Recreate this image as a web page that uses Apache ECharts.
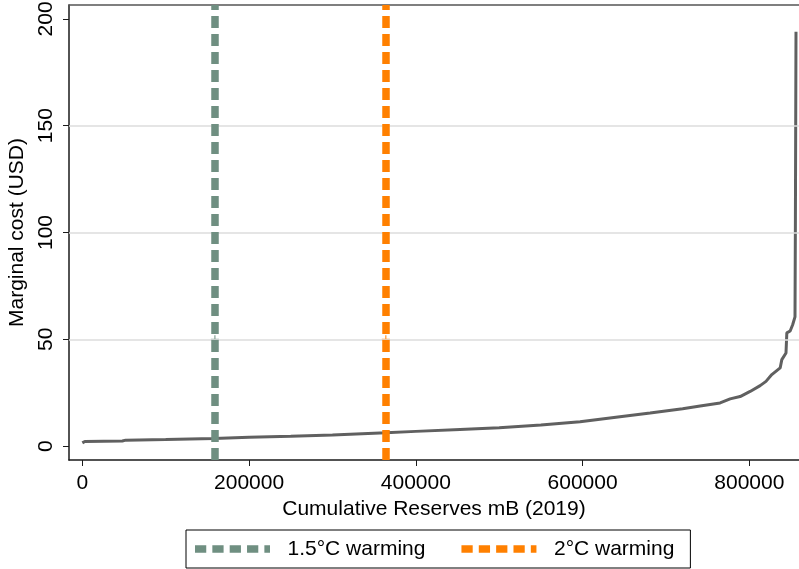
<!DOCTYPE html>
<html>
<head>
<meta charset="utf-8">
<script src="https://cdn.jsdelivr.net/npm/echarts@6/dist/echarts.min.js"></script>
<style>
  html, body { margin: 0; padding: 0; background: #fff; }
  #chart { width: 799px; height: 569px; }
</style>
</head>
<body>
<div id="chart"></div>
<script>
// Oil supply curve: cumulative reserves (mB) against marginal cost (USD)
const reserves = [
  0, 3000, 48000, 52000, 100000, 158000, 200000, 250000, 300000, 364000,
  400000, 453000, 500000, 550000, 597000, 640000, 681000, 720000, 741000, 765000,
  777000, 789000, 801000, 813000, 820000, 827000, 837000, 839000, 844000, 845000,
  849000, 852000, 854800, 855300, 856000
];
const marginalCost = [
  1.5, 2.2, 2.4, 2.8, 3.1, 3.6, 4.1, 4.6, 5.2, 6.2,
  6.9, 7.8, 8.6, 9.9, 11.4, 13.5, 15.5, 17.5, 18.8, 20.2,
  22.1, 23.2, 25.6, 28.3, 30.3, 33.5, 36.6, 40.5, 43.6, 53,
  53.9, 56.8, 60.5, 107, 194
];

// Carbon budgets expressed as cumulative reserves
const budgetNames = ['1.5°C warming', '2°C warming'];
const budgetReserves = [159000, 364000];
const budgetColors = ['#6f8f81', '#ff8000'];
const budgetMarkerCost = 50;

// Axis ticks and reference lines
const xTicks = [0, 200000, 400000, 600000, 800000];
const yTicks = [0, 50, 100, 150, 200];
const yGridLines = [50, 100, 150];

const FONT = '"Liberation Sans", Arial, sans-serif';
const AXIS_COLOR = '#1a1a1a';
const dashPattern = [12, 6];
// legend key: five thick dashes, the last one clipped
const legendDashIcon = 'path://M0,0h12v8h-12z M18.5,0h12v8h-12z M37,0h12v8h-12z M55.5,0h12v8h-12z M74,0h6v8h-6z';

const chart = echarts.init(document.getElementById('chart'), null, { renderer: 'canvas' });

const curveData = reserves.map((r, i) => [r, marginalCost[i]]);

const budgetSeries = budgetNames.map((name, i) => ({
  name: name,
  type: 'line',
  data: [],
  symbol: 'none',
  z: 2,
  itemStyle: { color: budgetColors[i] },
  lineStyle: { color: budgetColors[i], width: 7.5, type: dashPattern },
  markLine: {
    silent: true,
    symbol: ['none', 'none'],
    label: { show: false },
    lineStyle: { color: budgetColors[i], width: 7.5, type: dashPattern },
    data: [{ xAxis: budgetReserves[i] }]
  }
}));

chart.setOption({
  animation: false,
  backgroundColor: '#fff',
  textStyle: { fontFamily: FONT },
  grid: { left: 69, top: 5, right: 0, bottom: 109, containLabel: false, outerBoundsMode: 'none' },
  legend: {
    data: budgetNames.map((n, i) => ({ name: n, icon: legendDashIcon, itemStyle: { color: budgetColors[i] } })),
    left: 186,
    top: 530,
    orient: 'horizontal',
    itemWidth: 80,
    itemHeight: 7.5,
    itemGap: 36,
    padding: [8, 16, 8, 9],
    borderColor: '#000',
    borderWidth: 1,
    borderRadius: 0,
    textStyle: {
      fontSize: 21, color: '#000', fontFamily: FONT, lineHeight: 22,
      padding: [0, 0, 0, 10]
    }
  },
  xAxis: [{
    type: 'value',
    min: -16000,
    max: 859600,
    name: 'Cumulative Reserves mB (2019)',
    nameLocation: 'middle',
    nameGap: 32,
    nameTextStyle: { fontSize: 21, color: '#000', fontFamily: FONT },
    axisLine: { show: true, onZero: false, lineStyle: { color: AXIS_COLOR, width: 1.5 } },
    axisTick: { show: true, length: 6, customValues: xTicks, lineStyle: { color: AXIS_COLOR } },
    axisLabel: {
      customValues: xTicks,
      fontSize: 21, color: '#000', fontFamily: FONT, margin: 13,
      formatter: v => String(v)
    },
    splitLine: { show: false }
  }, {
    // top frame of the plot region
    type: 'value',
    position: 'top',
    min: -16000,
    max: 859600,
    axisLine: { show: true, onZero: false, lineStyle: { color: '#555', width: 1.5 } },
    axisTick: { show: false },
    axisLabel: { show: false },
    splitLine: { show: false }
  }],
  yAxis: {
    type: 'value',
    min: -6.5,
    max: 206.5,
    name: 'Marginal cost (USD)',
    nameLocation: 'middle',
    nameGap: 40,
    nameTextStyle: { fontSize: 21, color: '#000', fontFamily: FONT },
    axisLine: { show: true, onZero: false, lineStyle: { color: AXIS_COLOR, width: 1.5 } },
    axisTick: { show: true, length: 6, customValues: yTicks, lineStyle: { color: AXIS_COLOR } },
    axisLabel: {
      customValues: yTicks,
      rotate: 90,
      fontSize: 21, color: '#000', fontFamily: FONT, margin: 12,
      formatter: v => String(v)
    },
    splitLine: { show: false }
  },
  series: [
    {
      name: 'grid',
      type: 'line',
      data: [],
      z: 1,
      markLine: {
        silent: true,
        symbol: ['none', 'none'],
        label: { show: false },
        lineStyle: { color: '#dcdcdc', width: 1.5, type: 'solid' },
        data: yGridLines.map(v => ({ yAxis: v }))
      }
    },
    ...budgetSeries,
    {
      name: 'budget markers',
      type: 'scatter',
      z: 3,
      symbol: 'path://M4,0h1.5v4h4v1.5h-4v4h-1.5v-4h-4v-1.5h4z',
      symbolSize: 8,
      data: budgetReserves.map((r, i) => ({
        value: [r, budgetMarkerCost],
        itemStyle: { color: budgetColors[i] }
      }))
    },
    {
      name: 'supply curve',
      type: 'line',
      data: curveData,
      symbol: 'none',
      z: 4,
      lineStyle: { color: '#606060', width: 3 },
      itemStyle: { color: '#606060' }
    }
  ]
});
</script>
</body>
</html>
